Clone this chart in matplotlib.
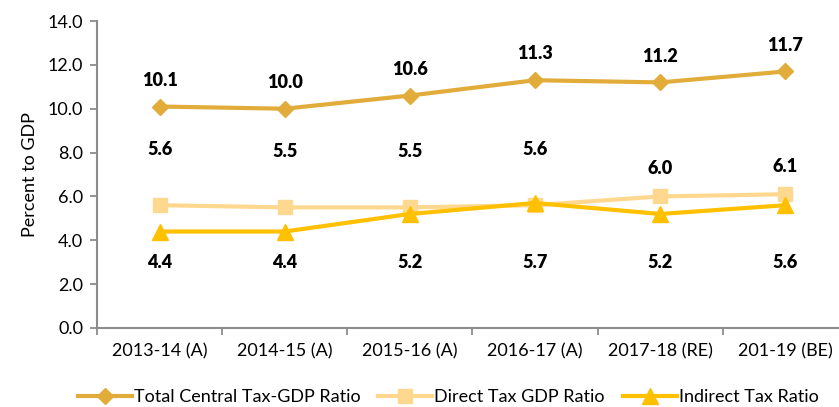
import matplotlib
matplotlib.use("Agg")
import matplotlib.pyplot as plt
from matplotlib.ticker import FixedLocator, NullFormatter

categories = ["2013-14 (A)", "2014-15 (A)", "2015-16 (A)", "2016-17 (A)", "2017-18 (RE)", "201-19 (BE)"]
total_ratio = [10.1, 10.0, 10.6, 11.3, 11.2, 11.7]
direct_ratio = [5.6, 5.5, 5.5, 5.6, 6.0, 6.1]
indirect_ratio = [4.4, 4.4, 5.2, 5.7, 5.2, 5.6]
series_names = ["Total Central Tax-GDP Ratio", "Direct Tax GDP Ratio", "Indirect Tax Ratio"]

c_total = "#E2AC3A"
c_direct = "#FFD88F"
c_indirect = "#FFC000"

plt.rcParams['font.family'] = ['Lato', 'DejaVu Sans']

W, H = 839, 407
fig = plt.figure(figsize=(W / 100, H / 100), dpi=100)
ax = fig.add_axes([97 / W, 1 - 328 / H, (848 - 97) / W, (328 - 21) / H])

x = list(range(len(categories)))
ax.plot(x, total_ratio, color=c_total, lw=3, marker="D", ms=8, label=series_names[0], zorder=3)
ax.plot(x, direct_ratio, color=c_direct, lw=3, marker="s", ms=10, label=series_names[1], zorder=2)
ax.plot(x, indirect_ratio, color=c_indirect, lw=3, marker="^", ms=11, label=series_names[2], zorder=4)

lab_kw = dict(ha="center", va="center", fontsize=13, fontweight="heavy", color="black")
for xi, v in zip(x, total_ratio):
    ax.annotate(f"{v:.1f}", (xi, v), xytext=(0, 19), textcoords="offset points", **lab_kw)
direct_offsets = [40, 40, 40, 40, 20, 20]
for xi, v, off in zip(x, direct_ratio, direct_offsets):
    ax.annotate(f"{v:.1f}", (xi, v), xytext=(0, off), textcoords="offset points", **lab_kw)
for xi, v in zip(x, indirect_ratio):
    ax.text(xi, 3.0, f"{v:.1f}", **lab_kw)

ax.set_xlim(-0.5, len(categories) - 0.5)
ax.set_ylim(0, 14)
yt = [0, 2, 4, 6, 8, 10, 12, 14]
ax.set_yticks(yt)
ax.set_yticklabels([f"{t:.1f}" for t in yt], fontsize=13)
ax.set_xticks(x)
ax.set_xticklabels(categories, fontsize=13)
ax.tick_params(axis="x", length=0, pad=11)
ax.xaxis.set_minor_locator(FixedLocator([i + 0.5 for i in range(-1, len(categories))]))
ax.xaxis.set_minor_formatter(NullFormatter())
ax.tick_params(axis="x", which="minor", length=5, color="#8C8C8C", width=1.3)
ax.tick_params(axis="y", length=5, color="#8C8C8C", width=1.3, pad=5)

for s in ["top", "right"]:
    ax.spines[s].set_visible(False)
for s in ["left", "bottom"]:
    ax.spines[s].set_color("#8C8C8C")
    ax.spines[s].set_linewidth(1.5)

ax.set_ylabel("Percent to GDP", fontsize=13, labelpad=7)

leg = fig.legend(loc="center", bbox_to_anchor=(448 / W, 1 - 397 / H), ncol=3, frameon=False,
                 fontsize=13, handlelength=3.0, handletextpad=0.1, columnspacing=1.0)

fig.savefig("out.png", dpi=100)
